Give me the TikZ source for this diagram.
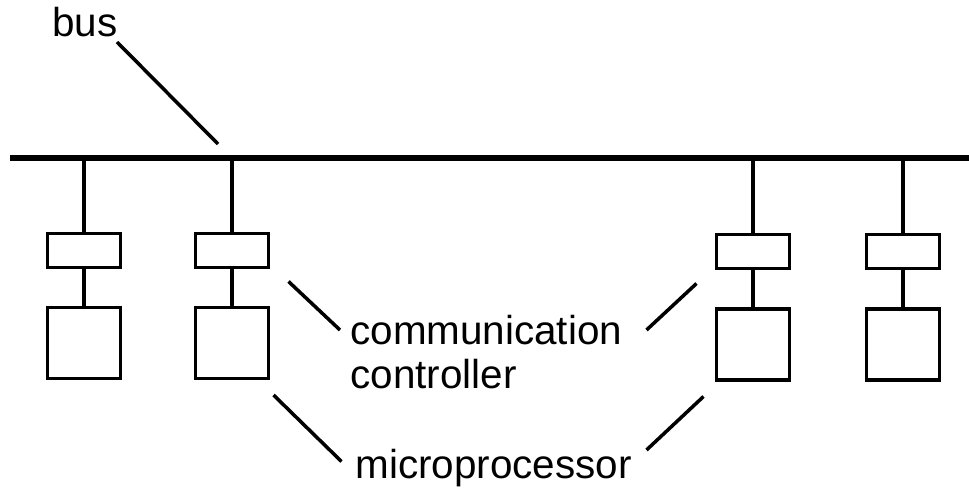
\documentclass[tikz,border=0pt]{standalone}
\usepackage{fontspec}
\setmainfont{Liberation Sans}
\usetikzlibrary{positioning}

\begin{document}
\begin{tikzpicture}[
                ctrl/.style={
                    rectangle,
                    draw=black,
                    line width=2pt,
                    minimum width=1.46cm,
                    minimum height=0.68cm,
                    inner sep=0pt
                },
                proc/.style={
                    ctrl,
                    minimum height=1.42cm
                },
                tap/.style={line width=2pt},
                linea/.style={line width=2pt},
                busline/.style={line width=3.4pt},
                texto/.style={
                    font=\fontsize{23}{24.5}\selectfont,
                    inner sep=0pt,
                    anchor=base west,
                    align=left
                }
            ]
                \useasboundingbox (0,0) rectangle (19.38,-10.02);
                % the bus
                \coordinate (busL) at (0.2,-3.16);
                \coordinate (busR) at (19.38,-3.16);
                \draw[busline] (busL) -- (busR);
                % stations
                \node[ctrl] (c1) at (1.68,-5.01) {};
                \node[proc] (p1) at (1.68,-6.86) {};
                \node[ctrl] (c2) at (4.64,-5.01) {};
                \node[proc] (p2) at (4.64,-6.86) {};
                \node[ctrl] (c3) at (15.06,-5.03) {};
                \node[proc] (p3) at (15.06,-6.89) {};
                \node[ctrl] (c4) at (18.06,-5.03) {};
                \node[proc] (p4) at (18.06,-6.89) {};
                \coordinate (t1) at (1.68,-3.16);
                \coordinate (t2) at (4.64,-3.16);
                \coordinate (t3) at (15.06,-3.16);
                \coordinate (t4) at (18.06,-3.16);
                \draw[tap] (t1) -- (c1) -- (p1);
                \draw[tap] (t2) -- (c2) -- (p2);
                \draw[tap] (t3) -- (c3) -- (p3);
                \draw[tap] (t4) -- (c4) -- (p4);
                % labels
                \node[texto] (bus) at (1.04,-0.74) {bus};
                \node[texto] (cc) at (7.0,-7.76) {communication\\controller};
                \node[texto] (mp) at (7.1,-9.56) {microprocessor};
                \coordinate (b0) at (2.34,-0.84);
                \coordinate (b1) at (4.36,-2.88);
                \coordinate (ccL0) at (5.77,-5.63);
                \coordinate (ccL1) at (6.80,-6.60);
                \coordinate (ccR0) at (13.93,-5.67);
                \coordinate (ccR1) at (12.93,-6.60);
                \coordinate (mpL0) at (5.47,-7.90);
                \coordinate (mpL1) at (6.83,-9.23);
                \coordinate (mpR0) at (14.07,-7.93);
                \coordinate (mpR1) at (12.93,-9.00);
                \draw[linea] (b0) -- (b1);
                \draw[linea] (ccL0) -- (ccL1);
                \draw[linea] (ccR0) -- (ccR1);
                \draw[linea] (mpL0) -- (mpL1);
                \draw[linea] (mpR0) -- (mpR1);
            \end{tikzpicture}
\end{document}
